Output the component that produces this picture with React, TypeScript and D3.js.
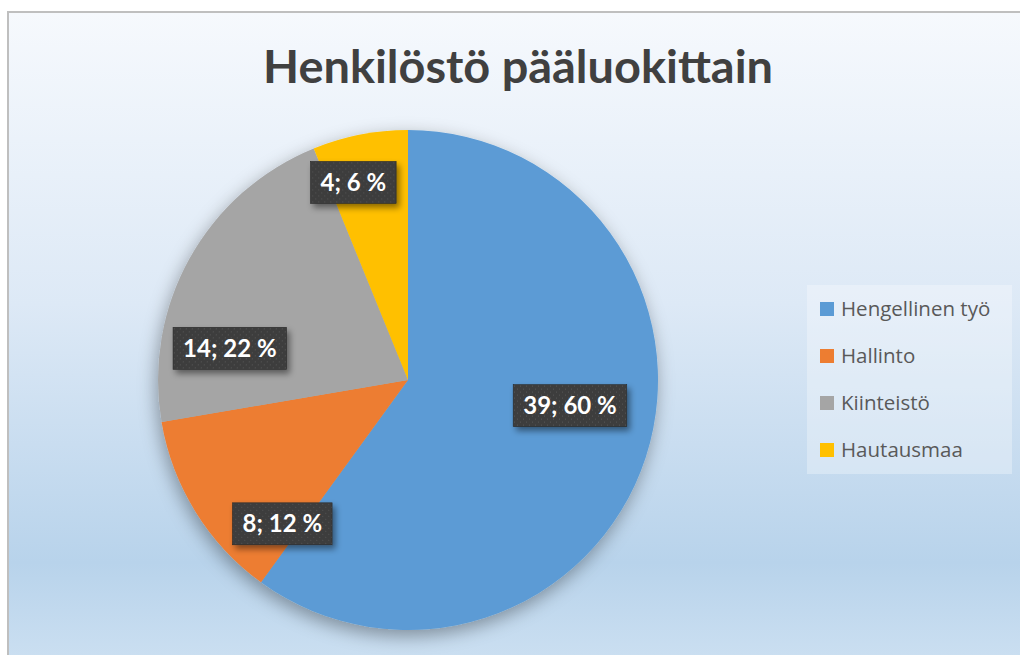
import React, { useEffect, useRef } from "react";
import * as d3 from "d3";

const categories = ["Hengellinen työ", "Hallinto", "Kiinteistö", "Hautausmaa"];
const values = [39, 8, 14, 4];
const percentLabels = ["60 %", "12 %", "22 %", "6 %"];
const colors = ["#5b9bd5", "#ed7d31", "#a5a5a5", "#ffc000"];
const title = "Henkilöstö pääluokittain";

// layout: label anchor as (angle offset from slice mid angle in degrees, radius fraction)
const labelAnchors: [number, number][] = [
  [-9, 0.656],
  [-17, 0.764],
  [-19, 0.724],
  [-4.4, 0.82],
];

const W = 1020;
const H = 655;

export default function App() {
  const ref = useRef<SVGSVGElement | null>(null);

  useEffect(() => {
    const svg = d3.select(ref.current);
    svg.selectAll("*").remove();

    const defs = svg.append("defs");
    const bg = defs
      .append("linearGradient")
      .attr("id", "bg")
      .attr("x1", 0)
      .attr("y1", 0)
      .attr("x2", 0)
      .attr("y2", 1);
    [
      [0, "#f6f9fd"],
      [0.45, "#dde9f6"],
      [0.85, "#b8d3eb"],
      [1, "#cbdff1"],
    ].forEach(([o, c]) => bg.append("stop").attr("offset", o as number).attr("stop-color", c as string));

    const sh = defs.append("filter").attr("id", "pieShadow").attr("x", "-20%").attr("y", "-20%").attr("width", "140%").attr("height", "140%");
    sh.append("feDropShadow").attr("dx", -2).attr("dy", 6).attr("stdDeviation", 9).attr("flood-color", "#000").attr("flood-opacity", 0.35);

    const lsh = defs.append("filter").attr("id", "lblShadow").attr("x", "-20%").attr("y", "-30%").attr("width", "150%").attr("height", "170%");
    lsh.append("feDropShadow").attr("dx", 3).attr("dy", 4).attr("stdDeviation", 3).attr("flood-color", "#000").attr("flood-opacity", 0.45);

    const pat = defs
      .append("pattern")
      .attr("id", "dots")
      .attr("width", 6)
      .attr("height", 6)
      .attr("patternUnits", "userSpaceOnUse");
    pat.append("rect").attr("width", 6).attr("height", 6).attr("fill", "#3d3d3d");
    pat.append("rect").attr("x", 1).attr("y", 1).attr("width", 1).attr("height", 1).attr("fill", "#575757");
    pat.append("rect").attr("x", 4).attr("y", 4).attr("width", 1).attr("height", 1).attr("fill", "#575757");

    // background
    svg.append("rect").attr("x", 0).attr("y", 0).attr("width", W).attr("height", H).attr("fill", "#ffffff");
    svg
      .append("rect")
      .attr("x", 8)
      .attr("y", 12)
      .attr("width", W - 8 + 5)
      .attr("height", H - 12 + 5)
      .attr("fill", "url(#bg)")
      .attr("stroke", "#bfbfbf")
      .attr("stroke-width", 2);

    // title
    svg
      .append("text")
      .attr("x", 518)
      .attr("y", 83)
      .attr("text-anchor", "middle")
      .attr("font-family", "Lato, 'Open Sans', sans-serif")
      .attr("font-weight", 700)
      .attr("font-size", 46)
      .attr("fill", "#404040")
      .attr("textLength", 510)
      .attr("lengthAdjust", "spacingAndGlyphs")
      .text(title);

    // pie
    const cx = 408;
    const cy = 380;
    const r = 250;
    const pie = d3.pie<number>().sort(null).value((d) => d);
    const arcs = pie(values);
    const arc = d3.arc<d3.PieArcDatum<number>>().innerRadius(0).outerRadius(r);

    const g = svg.append("g").attr("transform", `translate(${cx},${cy})`);
    const slices = g.append("g").attr("filter", "url(#pieShadow)");
    slices
      .selectAll("path")
      .data(arcs)
      .join("path")
      .attr("d", arc)
      .attr("fill", (_, i) => colors[i]);

    // labels
    const total = d3.sum(values);
    const lg = g.append("g");
    arcs.forEach((a, i) => {
      const mid = (a.startAngle + a.endAngle) / 2 + (labelAnchors[i][0] * Math.PI) / 180;
      const rr = labelAnchors[i][1] * r;
      const x = Math.sin(mid) * rr;
      const y = -Math.cos(mid) * rr;
      const lab = `${values[i]}; ${percentLabels[i] ?? Math.round((values[i] / total) * 100) + " %"}`;
      const grp = lg.append("g").attr("transform", `translate(${x},${y})`);
      const box = grp.append("rect").attr("fill", "url(#dots)").attr("filter", "url(#lblShadow)").attr("stroke", "#2a2a2a").attr("stroke-width", 0.6);
      const t = grp
        .append("text")
        .attr("text-anchor", "middle")
        .attr("dy", "0.36em")
        .attr("font-family", "Lato, 'Open Sans', sans-serif")
        .attr("font-weight", 700)
        .attr("font-size", 24)
        .attr("fill", "#ffffff")
        .text(lab);
      const tw = (t.node() as SVGTextElement).getComputedTextLength();
      const bw = tw + 20;
      const bh = 42;
      box.attr("x", -bw / 2).attr("y", -bh / 2).attr("width", bw).attr("height", bh);
    });

    // legend
    const leg = svg.append("g");
    leg
      .append("rect")
      .attr("x", 807)
      .attr("y", 285)
      .attr("width", 205)
      .attr("height", 189)
      .attr("fill", "#ffffff")
      .attr("fill-opacity", 0.3);
    const ly = d3.scalePoint<string>().domain(categories).range([309, 450]);
    categories.forEach((c, i) => {
      const yy = ly(c)!;
      leg.append("rect").attr("x", 820).attr("y", yy - 7).attr("width", 14).attr("height", 14).attr("fill", colors[i]);
      leg
        .append("text")
        .attr("x", 841)
        .attr("y", yy)
        .attr("dy", "0.35em")
        .attr("font-family", "'Open Sans', Lato, sans-serif")
        .attr("font-size", 20.5)
        .attr("fill", "#595959")
        .text(c);
    });
  }, []);

  return (
    <svg
      ref={ref}
      width={W}
      height={H}
      style={{ position: "absolute", left: 0, top: 0, display: "block" }}
    />
  );
}
